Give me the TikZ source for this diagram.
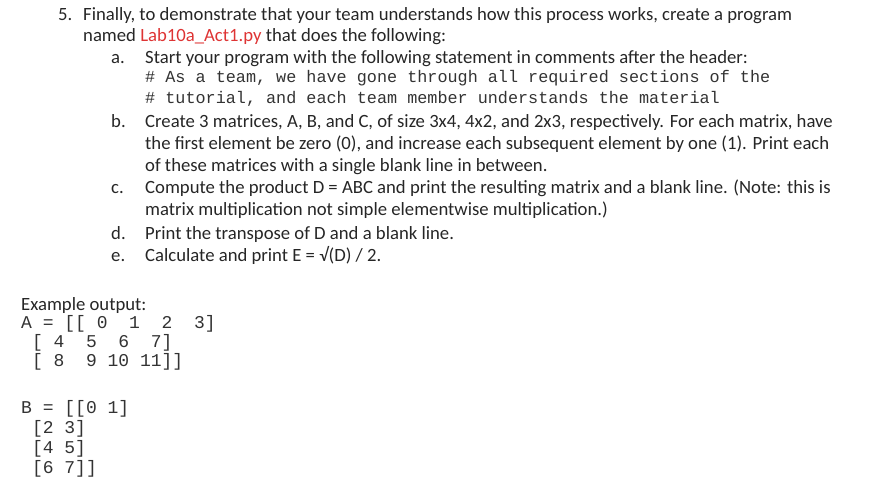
\documentclass[tikz,border=0pt]{standalone}
\usepackage{fontspec}
\setmainfont{Carlito}
\newfontfamily\cmono{Liberation Mono}
\begin{document}
\begin{tikzpicture}[x=1pt,y=-1pt,
  tx/.style={anchor=base west,inner sep=0pt,font=\fontsize{18.7}{20}\selectfont,text=black!85},
  mn/.style={anchor=base west,inner sep=0pt,font=\cmono\fontsize{16.8}{18}\selectfont,text=black!80},
  ex/.style={anchor=base west,inner sep=0pt,font=\cmono\fontsize{18}{18}\selectfont,text=black!80}]
\useasboundingbox (0,0) rectangle (892,495);
\definecolor{redt}{RGB}{222,52,52}
\node[tx] (n5) at (58,21) {5.};
\node[tx] (l1) at (83,21) {Finally, to demonstrate that your team understands how this process works, create a program};
\node[tx] (l2) at (83,42) {named \textcolor{redt}{Lab10a\_Act1.py} that does the following:};
\node[tx] (a) at (111,64) {a.};
\node[tx] (a1) at (145,64) {Start your program with the following statement in comments after the header:};
\node[mn] (m1) at (145,83) {\# As a team, we have gone through all required sections of the};
\node[mn] (m2) at (145,103) {\# tutorial, and each team member understands the material};
\node[tx] (b) at (111,127) {b.};
\node[tx] (b1) at (145,127) {Create 3 matrices, A, B, and C, of size 3x4, 4x2, and 2x3, respectively. For each matrix, have};
\node[tx] (b2) at (145,149) {the first element be zero (0), and increase each subsequent element by one (1). Print each};
\node[tx] (b3) at (145,171) {of these matrices with a single blank line in between.};
\node[tx] (c) at (111,193) {c.};
\node[tx] (c1) at (145,193) {Compute the product D = ABC and print the resulting matrix and a blank line. (Note: this is};
\node[tx] (c2) at (145,215) {matrix multiplication not simple elementwise multiplication.)};
\node[tx] (d) at (111,239) {d.};
\node[tx] (d1) at (145,239) {Print the transpose of D and a blank line.};
\node[tx] (e) at (111,261) {e.};
\node[tx] (e1) at (145,261) {Calculate and print E = √(D) / 2.};
\node[tx] (eo) at (21,310) {Example output:};
\node[ex] (x1) at (21,328) {A~=~[[~0~~1~~2~~3]};
\node[ex] (x2) at (21,347) {~[~4~~5~~6~~7]};
\node[ex] (x3) at (21,366) {~[~8~~9~10~11]]};
\node[ex] (y1) at (21,413) {B~=~[[0~1]};
\node[ex] (y2) at (21,433) {~[2~3]};
\node[ex] (y3) at (21,453) {~[4~5]};
\node[ex] (y4) at (21,473) {~[6~7]]};
\end{tikzpicture}
\end{document}
